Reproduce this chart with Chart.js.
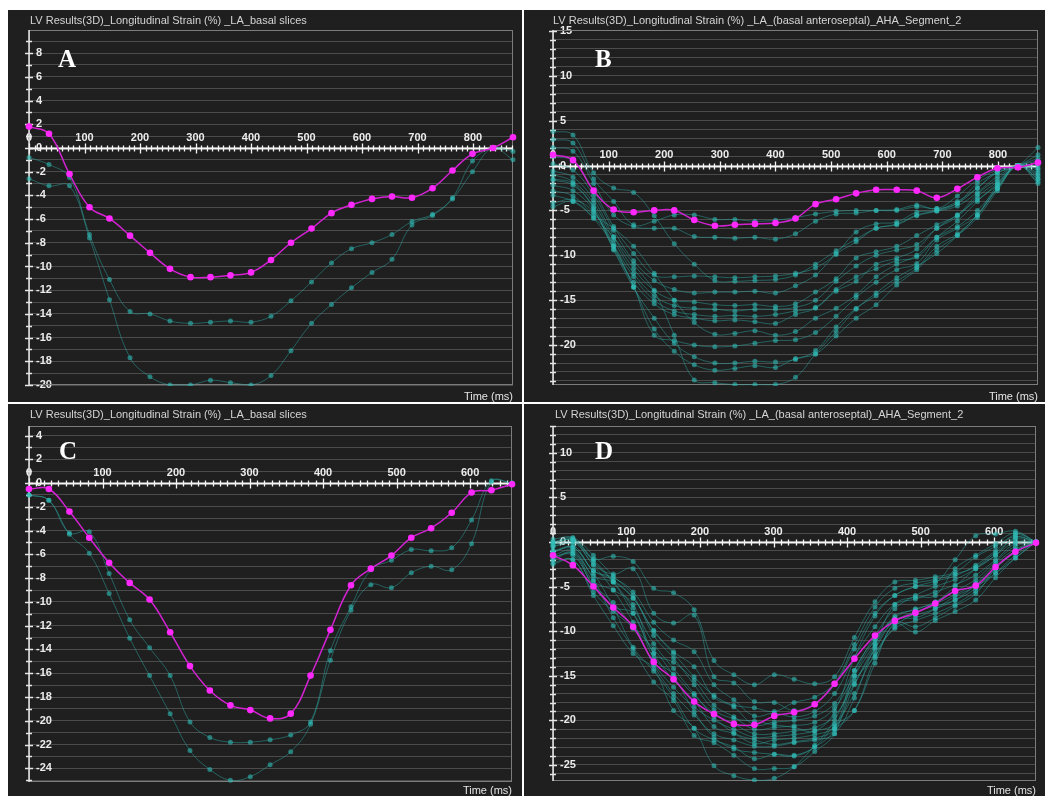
<!doctype html>
<html lang="en">
<head>
<meta charset="utf-8" />
<title>LV longitudinal strain curves</title>
<script src="https://cdn.jsdelivr.net/npm/chart.js@4.4.3/dist/chart.umd.min.js"></script>
<style>
  html, body { margin: 0; padding: 0; background: #fff; }
  body { width: 1046px; height: 796px; position: relative; overflow: hidden; font-family: "Liberation Sans", Arial, sans-serif; }
  .panel { position: absolute; background: #1f1f1f; }
  .panel canvas { position: absolute; left: 0; top: 0; }
  .title { position: absolute; top: 4px; color: #d4d4d4; font-size: 11px; white-space: nowrap; }
  .letter { position: absolute; color: #fff; font: bold 25px/25px "Liberation Serif", "Times New Roman", serif; }
  .unit { position: absolute; bottom: 0; color: #e4e4e4; font-size: 11px; }
</style>
</head>
<body>
<div class="panel" id="pA" style="left:8px;top:10px;width:514px;height:392px">
  <canvas id="cA" width="514" height="392"></canvas>
  <div class="title" style="left:22px">LV Results(3D)_Longitudinal Strain (%) _LA_basal slices</div>
  <div class="letter" style="left:50px;top:36px">A</div>
  <div class="unit" style="right:9px">Time (ms)</div>
</div>
<div class="panel" id="pB" style="left:524px;top:10px;width:521px;height:392px">
  <canvas id="cB" width="521" height="392"></canvas>
  <div class="title" style="left:29px">LV Results(3D)_Longitudinal Strain (%) _LA_(basal anteroseptal)_AHA_Segment_2</div>
  <div class="letter" style="left:71px;top:36px">B</div>
  <div class="unit" style="right:7px">Time (ms)</div>
</div>
<div class="panel" id="pC" style="left:8px;top:404px;width:514px;height:392px">
  <canvas id="cC" width="514" height="392"></canvas>
  <div class="title" style="left:22px">LV Results(3D)_Longitudinal Strain (%) _LA_basal slices</div>
  <div class="letter" style="left:51px;top:34px">C</div>
  <div class="unit" style="right:10px">Time (ms)</div>
</div>
<div class="panel" id="pD" style="left:524px;top:404px;width:521px;height:392px">
  <canvas id="cD" width="521" height="392"></canvas>
  <div class="title" style="left:31px">LV Results(3D)_Longitudinal Strain (%) _LA_(basal anteroseptal)_AHA_Segment_2</div>
  <div class="letter" style="left:71px;top:34px">D</div>
  <div class="unit" style="right:9px">Time (ms)</div>
</div>
<script>
// frame times (ms)
const timesLong = [0, 36, 73, 109, 145, 182, 218, 254, 291, 327, 363, 400, 436, 472, 509, 545, 581, 618, 654, 690, 727, 763, 799, 836, 872];
const timesShort = [0, 27, 55, 82, 109, 137, 164, 192, 219, 246, 274, 301, 328, 356, 383, 410, 438, 465, 493, 520, 547, 575, 602, 629, 657];

// A: basal slices
const meanA = [1.8, 1.2, -2.2, -5.0, -5.95, -7.4, -8.85, -10.2, -10.9, -10.9, -10.75, -10.5, -9.45, -8.0, -6.8, -5.5, -4.8, -4.3, -4.1, -4.2, -3.4, -1.9, -0.5, 0, 0.9];
const sliceA1 = [-0.8, -1.4, -2.5, -7.3, -11.1, -13.8, -14.0, -14.6, -14.8, -14.7, -14.6, -14.7, -14.2, -12.9, -11.3, -9.7, -8.5, -8.0, -7.3, -6.2, -5.6, -4.2, -1.1, 0, -0.3];
const sliceA2 = [-2.6, -3.2, -3.2, -7.6, -12.8, -17.7, -19.3, -20.0, -20.0, -19.6, -19.8, -20.0, -19.2, -17.1, -14.8, -13.2, -11.8, -10.5, -9.4, -6.5, -5.7, -4.3, -2.0, 0, -1.0];

// B: basal anteroseptal, AHA segment 2
const meanB = [1.2, 0.6, -2.8, -4.9, -5.2, -5.0, -5.0, -6.07, -6.7, -6.6, -6.5, -6.4, -5.9, -4.3, -3.75, -3.1, -2.7, -2.7, -2.8, -3.6, -2.6, -1.3, -0.3, -0.2, 0.33];
const segB1 = [3.8, 3.4, -0.8, -2.5, -3.0, -5.6, -8.7, -11.0, -12.8, -12.9, -12.8, -12.7, -12.2, -11.0, -9.5, -8.2, -7.0, -6.5, -5.5, -5.0, -4.0, -2.5, -0.8, 0, 2.0];
const segB2 = [2.9, 2.5, -1.5, -4.0, -6.6, -6.2, -5.5, -5.5, -6.0, -6.0, -6.2, -6.1, -5.8, -5.4, -5.1, -5.0, -5.0, -5.0, -4.6, -4.8, -4.2, -2.5, -0.6, 0, 1.2];
const segB3 = [2.0, 1.6, -2.0, -5.5, -6.8, -7.0, -7.0, -7.9, -8.0, -8.1, -8.0, -8.2, -7.6, -6.2, -5.4, -5.3, -5.0, -4.9, -4.4, -4.8, -3.4, -1.6, -0.5, 0, 0.8];
const segB4 = [1.0, 0.5, -2.8, -6.8, -9.8, -12.2, -12.4, -12.3, -12.4, -12.5, -12.4, -12.3, -12.0, -11.4, -9.8, -7.4, -6.5, -6.3, -5.2, -5.0, -4.2, -2.0, -0.8, 0, 0.5];
const segB5 = [0.2, -0.5, -3.3, -7.2, -10.6, -12.8, -13.8, -14.2, -14.1, -14.1, -14.0, -14.2, -13.4, -12.2, -9.9, -8.5, -7.0, -6.6, -5.6, -5.1, -4.5, -3.0, -1.2, 0, 0];
const segB6 = [-0.6, -1.3, -3.8, -7.9, -11.5, -13.9, -15.0, -15.2, -15.5, -15.6, -15.5, -15.7, -15.4, -14.1, -12.6, -10.3, -9.6, -9.0, -7.8, -6.6, -5.5, -3.2, -1.5, 0, -0.3];
const segB7 = [-1.0, -1.8, -4.2, -8.3, -12.0, -14.5, -15.6, -15.9, -16.0, -16.2, -16.0, -16.0, -15.8, -15.0, -12.9, -11.2, -10.0, -9.4, -8.8, -7.0, -5.7, -3.5, -1.8, 0, -0.5];
const segB8 = [-1.6, -2.2, -4.6, -8.8, -12.4, -15.0, -16.2, -16.6, -16.8, -16.7, -16.8, -16.6, -16.2, -15.8, -13.8, -12.4, -11.5, -10.6, -10.2, -8.0, -6.2, -4.0, -2.0, 0, -1.0];
const segB9 = [-2.2, -2.8, -5.0, -9.3, -13.0, -15.4, -16.6, -17.0, -17.3, -17.2, -17.4, -17.6, -16.6, -15.9, -14.0, -12.9, -11.0, -10.3, -9.3, -7.0, -5.5, -3.8, -2.2, 0, -1.5];
const segB10 = [-2.8, -3.4, -5.5, -7.0, -9.0, -12.0, -15.0, -17.5, -18.8, -18.7, -18.4, -18.9, -18.5, -17.0, -15.9, -14.4, -12.4, -11.0, -10.0, -8.0, -6.8, -5.0, -2.5, 0, -2.0];
const segB11 = [-3.3, -4.0, -5.9, -9.0, -13.5, -18.9, -19.5, -20.0, -20.2, -20.1, -19.8, -19.5, -19.4, -18.6, -16.8, -14.7, -13.0, -11.6, -10.9, -8.3, -7.0, -5.5, -2.5, 0, -1.8];
const segB12 = [-1.5, -2.0, -4.8, -9.4, -13.6, -17.0, -19.8, -21.3, -22.0, -22.0, -21.8, -21.9, -21.6, -20.6, -18.0, -15.9, -14.5, -12.9, -11.4, -9.0, -7.6, -5.5, -2.2, 0, -1.2];
const segB13 = [-4.2, -3.8, -5.2, -9.0, -13.5, -18.2, -20.7, -22.2, -22.8, -22.6, -22.3, -22.5, -21.5, -21.0, -19.0, -17.0, -15.5, -13.3, -11.6, -9.4, -7.8, -5.8, -2.8, 0, -1.5];
const segB14 = [-4.6, -4.0, -5.8, -8.0, -11.0, -14.0, -18.9, -23.9, -24.2, -24.4, -24.4, -24.4, -23.6, -21.0, -18.5, -16.0, -14.2, -12.5, -11.2, -9.8, -7.8, -5.5, -2.6, 0, -0.8];

// C: basal slices
const meanC = [-0.5, -0.5, -2.4, -4.6, -6.7, -8.4, -9.8, -12.55, -15.4, -17.45, -18.7, -19.1, -19.8, -19.4, -16.2, -12.35, -8.6, -7.2, -6.1, -4.6, -3.8, -2.5, -0.8, -0.6, -0.1];
const sliceC1 = [-1.0, -1.45, -4.2, -4.1, -7.6, -11.5, -13.85, -16.2, -20.1, -21.4, -21.8, -21.8, -21.6, -21.2, -20.1, -14.1, -10.4, -7.3, -6.5, -5.6, -5.7, -5.45, -3.1, 0.2, 0];
const sliceC2 = [-1.0, -1.45, -4.3, -5.9, -9.3, -13.05, -16.2, -19.4, -22.5, -24.1, -25.0, -24.7, -23.7, -22.6, -20.3, -14.9, -10.7, -8.55, -8.8, -7.55, -7.0, -7.3, -5.1, 0.1, 0];

// D: basal anteroseptal, AHA segment 2
const meanD = [-1.5, -2.6, -5.0, -7.35, -9.5, -13.45, -15.4, -17.9, -19.3, -20.4, -20.5, -19.5, -19.1, -18.2, -15.9, -13.1, -10.5, -8.85, -7.95, -6.9, -5.5, -4.9, -2.8, -1.1, -0.1];
const segD1 = [-0.3, 0.3, -1.9, -1.6, -2.2, -5.2, -5.7, -7.6, -13.3, -14.9, -16.0, -14.9, -15.4, -15.9, -15.1, -10.7, -6.7, -4.5, -4.3, -3.9, -3.4, -1.7, -0.5, 0.6, 0];
const segD2 = [0, 0.2, -2.5, -3.6, -3.0, -8.0, -9.1, -8.2, -15.1, -15.8, -17.9, -18.0, -18.9, -18.1, -16.0, -12.0, -8.0, -6.0, -5.0, -4.4, -3.8, -2.6, -1.0, 0.8, 0];
const segD3 = [-0.5, -0.3, -3.2, -4.0, -5.6, -9.0, -11.0, -12.3, -16.0, -17.7, -19.5, -19.2, -19.6, -19.0, -17.0, -12.9, -9.5, -7.0, -6.4, -5.6, -4.8, -3.7, -2.0, -0.2, 0];
const segD4 = [-1.0, -0.8, -3.8, -4.5, -6.3, -9.9, -12.3, -14.0, -17.4, -18.5, -20.5, -20.2, -20.0, -19.5, -18.1, -14.4, -10.5, -7.5, -6.0, -5.0, -4.2, -3.0, -1.5, 0.5, 0];
const segD5 = [-1.5, -1.0, -4.4, -5.4, -7.0, -12.5, -13.5, -15.5, -18.3, -19.6, -21.0, -20.8, -20.6, -20.2, -18.6, -15.0, -11.4, -8.3, -7.6, -6.7, -5.5, -4.2, -2.2, -0.5, 0];
const segD6 = [-2.0, -1.3, -5.0, -7.3, -8.0, -13.0, -14.8, -17.2, -19.2, -20.4, -21.5, -21.5, -21.2, -20.8, -19.5, -15.9, -12.0, -8.8, -8.2, -7.5, -6.5, -4.8, -2.8, -1.0, 0];
const segD7 = [-2.3, -2.0, -5.6, -7.8, -9.7, -13.6, -16.3, -18.5, -20.0, -21.0, -21.9, -21.8, -21.6, -21.2, -20.4, -17.0, -12.5, -9.7, -8.8, -8.0, -7.0, -5.5, -3.5, -1.5, 0];
const segD8 = [-0.2, 0.2, -2.0, -4.5, -8.0, -12.5, -15.5, -17.8, -20.7, -21.5, -22.6, -22.2, -22.0, -21.6, -20.9, -18.9, -13.6, -9.2, -10.1, -8.8, -7.8, -6.5, -4.0, -1.8, 0];
const segD9 = [-0.5, 0, -2.6, -5.4, -9.0, -13.8, -17.0, -19.4, -21.5, -22.2, -22.9, -22.9, -22.5, -22.2, -21.5, -17.5, -11.8, -9.0, -9.5, -8.5, -7.2, -5.8, -3.0, -1.2, 0];
const segD10 = [-1.2, -0.6, -3.5, -7.3, -11.8, -14.5, -17.4, -20.9, -22.2, -23.0, -24.3, -23.8, -23.9, -23.0, -21.0, -14.4, -10.9, -8.7, -8.5, -7.5, -6.1, -5.0, -3.5, -1.8, 0];
const segD11 = [-1.8, -1.2, -4.2, -8.5, -12.0, -15.7, -17.8, -21.7, -22.5, -23.9, -25.4, -25.4, -25.2, -23.5, -21.5, -15.0, -11.0, -8.5, -7.5, -6.9, -5.9, -4.6, -2.5, -0.8, 0];
const segD12 = [-2.5, -2.0, -6.0, -9.4, -12.5, -14.2, -18.9, -20.9, -25.1, -26.2, -26.7, -26.5, -25.2, -22.8, -20.0, -15.5, -12.8, -9.0, -7.8, -7.2, -6.5, -5.2, -3.0, -1.0, 0];
const segD13 = [0.3, 0.5, -1.5, -3.8, -6.0, -10.5, -13.0, -16.0, -18.8, -19.8, -20.1, -20.5, -20.8, -21.2, -19.0, -13.0, -8.3, -6.0, -5.0, -4.6, -2.0, 0.7, 0.9, 1.2, 0];
const segD14 = [0, 0.4, -2.2, -4.5, -7.4, -11.4, -14.2, -17.0, -19.6, -21.4, -22.2, -22.7, -22.4, -22.0, -21.0, -16.0, -11.5, -7.0, -6.2, -6.0, -3.0, -1.5, -0.2, 1.0, 0];
const segD15 = [-1.0, -0.6, -3.2, -4.3, -6.3, -10.0, -12.5, -15.1, -17.2, -18.3, -18.6, -19.0, -18.0, -17.4, -15.8, -11.5, -7.3, -5.2, -4.6, -4.2, -3.6, -2.8, -1.2, 0.3, 0];
const segD16 = [-1.6, -1.5, -4.8, -6.8, -9.5, -12.0, -15.0, -19.0, -21.9, -23.2, -23.6, -23.8, -24.0, -23.0, -20.6, -18.9, -13.0, -9.5, -8.0, -6.8, -5.0, -3.0, -1.5, 0.0, 0];

Chart.defaults.font.family = '"Liberation Sans", Arial, sans-serif';

// white axis at zero strain and on the left, with "+" style tick marks
const axisDecor = {
  id: "axisDecor",
  beforeDatasetsDraw(chart, args, opts) {
    const { ctx, chartArea: a } = chart;
    const x = chart.scales.x;
    const y = chart.scales.y;
    ctx.save();
    ctx.strokeStyle = "#7c7c7c";
    ctx.lineWidth = 1;
    ctx.strokeRect(a.left + 0.5, a.top + 0.5, a.width - 1, a.height - 1);

    ctx.strokeStyle = "#e6e6e6";
    ctx.lineWidth = 1.5;
    ctx.beginPath();
    ctx.moveTo(a.left, a.top);
    ctx.lineTo(a.left, a.bottom);
    for (const t of y.ticks) {
      const py = Math.round(y.getPixelForValue(t.value)) + 0.5;
      const len = t.value % opts.labelStep === 0 ? 4 : 3;
      ctx.moveTo(a.left - len, py);
      ctx.lineTo(a.left + len, py);
    }
    ctx.stroke();

    const y0 = Math.round(y.getPixelForValue(0)) + 0.5;
    ctx.strokeStyle = "#f4f4f4";
    ctx.lineWidth = 2;
    ctx.beginPath();
    ctx.moveTo(a.left, y0);
    ctx.lineTo(a.right, y0);
    ctx.stroke();
    ctx.lineWidth = 1.3;
    ctx.beginPath();
    for (let v = 0; v <= x.max; v += 10) {
      const px = Math.round(x.getPixelForValue(v)) + 0.5;
      const len = v % 100 === 0 ? 5 : 3;
      ctx.moveTo(px, y0 - len);
      ctx.lineTo(px, y0 + len);
    }
    ctx.stroke();
    ctx.restore();
  }
};

const edgeClip = { left: 6, right: 6, top: 6, bottom: 1 };

function meanCurve(times, values) {
  return {
    data: values.map((v, i) => ({ x: times[i], y: v })),
    borderColor: "#d222d2",
    borderWidth: 1.5,
    pointBackgroundColor: "#ff28ff",
    pointBorderWidth: 0,
    pointRadius: 3.3,
    tension: 0.4,
    clip: edgeClip,
  };
}

function segCurve(times, values) {
  return {
    data: values.map((v, i) => ({ x: times[i], y: v })),
    borderColor: "rgba(46,165,160,0.5)",
    borderWidth: 1,
    pointBackgroundColor: "rgba(48,190,185,0.58)",
    pointBorderWidth: 0,
    pointRadius: 2.5,
    tension: 0.4,
    clip: edgeClip,
  };
}

function drawPanel(canvasId, times, mean, segs, cfg) {
  const tickFont = { size: 11, weight: "bold" };
  new Chart(document.getElementById(canvasId), {
    type: "line",
    data: {
      datasets: [meanCurve(times, mean), ...segs.map((s) => segCurve(times, s))],
    },
    options: {
      responsive: false,
      animation: false,
      devicePixelRatio: 1,
      layout: { padding: cfg.pad },
      plugins: {
        legend: { display: false },
        tooltip: { enabled: false },
        axisDecor: { labelStep: cfg.labelStep },
      },
      scales: {
        x: {
          type: "linear",
          min: 0,
          max: cfg.xMax,
          position: { y: 0 },
          afterFit: (s) => { s.height = 0; },
          grid: { display: false },
          border: { display: false },
          ticks: {
            stepSize: 100,
            includeBounds: false,
            autoSkip: false,
            maxRotation: 0,
            padding: -25,
            color: "#ececec",
            font: tickFont,
          },
        },
        y: {
          type: "linear",
          min: cfg.yMin,
          max: cfg.yMax,
          afterFit: (s) => { s.width = 0; },
          grid: { color: "#4b4b4b", lineWidth: 1, drawTicks: false },
          border: { display: false },
          ticks: {
            stepSize: 1,
            includeBounds: false,
            autoSkip: false,
            mirror: true,
            padding: 7,
            color: "#ececec",
            font: tickFont,
            callback: (v) => (v % cfg.labelStep === 0 ? v : ""),
          },
        },
      },
    },
    plugins: [axisDecor],
  });
}

drawPanel("cA", timesLong, meanA, [sliceA1, sliceA2],
  { xMax: 872, yMin: -20, yMax: 9.95, labelStep: 2, pad: { left: 21, top: 20, right: 9, bottom: 17 } });
drawPanel("cB", timesLong, meanB,
  [segB1, segB2, segB3, segB4, segB5, segB6, segB7, segB8, segB9, segB10, segB11, segB12, segB13, segB14],
  { xMax: 872, yMin: -24.45, yMax: 15.1, labelStep: 5, pad: { left: 29, top: 20, right: 7, bottom: 17 } });
drawPanel("cC", timesShort, meanC, [sliceC1, sliceC2],
  { xMax: 657, yMin: -25.15, yMax: 4.8, labelStep: 2, pad: { left: 21, top: 22, right: 10, bottom: 14 } });
drawPanel("cD", timesShort, meanD,
  [segD1, segD2, segD3, segD4, segD5, segD6, segD7, segD8, segD9, segD10, segD11, segD12, segD13, segD14, segD15, segD16],
  { xMax: 657, yMin: -26.8, yMax: 13, labelStep: 5, pad: { left: 29, top: 22, right: 9, bottom: 15 } });
</script>
</body>
</html>
